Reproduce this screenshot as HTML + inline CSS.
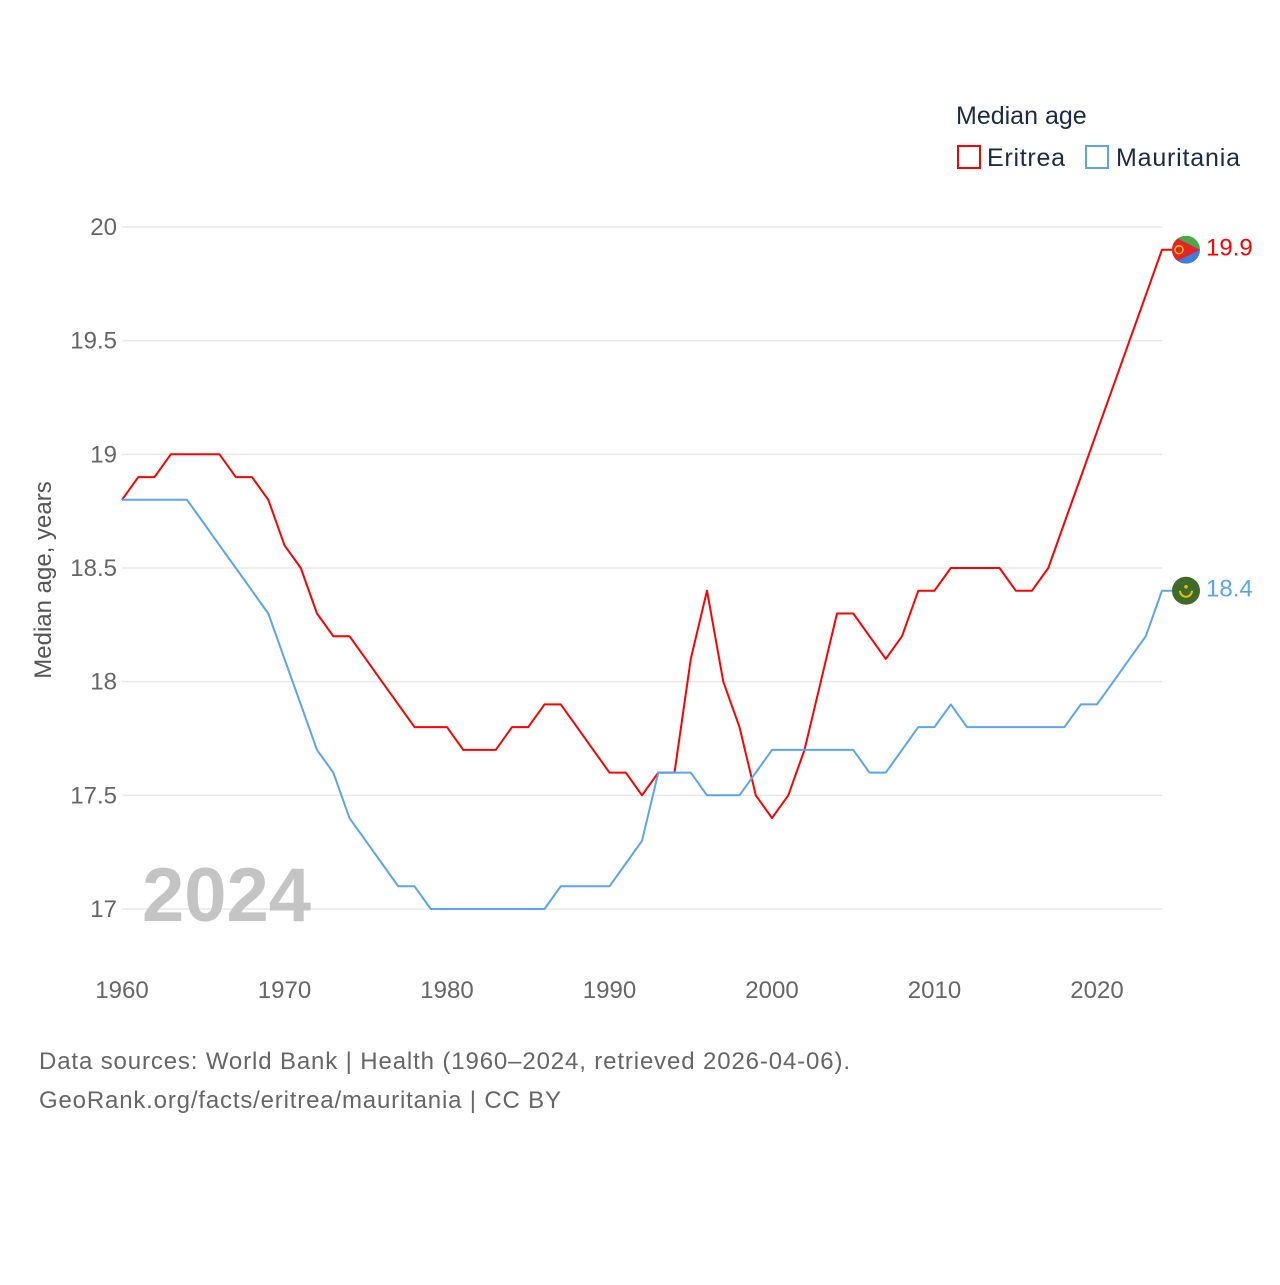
<!DOCTYPE html>
<html><head><meta charset="utf-8"><style>
html,body{margin:0;padding:0;background:#fff;}
svg text{font-family:"Liberation Sans",sans-serif;}
</style></head><body>
<svg id="chart" width="1280" height="1280" viewBox="0 0 1280 1280" xmlns="http://www.w3.org/2000/svg">
<g id="grid"></g>
<g id="yticks"></g>
<g id="xticks"></g>
<text transform="translate(51,580) rotate(-90)" text-anchor="middle" font-size="24" fill="#555">Median age, years</text>
<text x="142" y="921" font-size="76" font-weight="bold" fill="#c4c4c4">2024</text>
<g id="series"></g>
<g>
<text x="956" y="124" font-size="25" fill="#1b2a47">Median age</text>
<rect x="958" y="146" width="22" height="22" fill="none" stroke="#ff0000" stroke-width="2"/>
<text x="987" y="166" font-size="25" fill="#1b2a47" textLength="78">Eritrea</text>
<rect x="1086" y="146" width="22" height="22" fill="none" stroke="#5aa5ee" stroke-width="2"/>
<text x="1116" y="166" font-size="25" fill="#1b2a47" textLength="124">Mauritania</text>
</g>
<text x="39" y="1069" font-size="24" fill="#666" textLength="811">Data sources: World Bank | Health (1960–2024, retrieved 2026-04-06).</text>
<text x="39" y="1108" font-size="24" fill="#666" textLength="522">GeoRank.org/facts/eritrea/mauritania | CC BY</text>
</svg>
<script>
const years = [];
for (let y = 1960; y <= 2024; y++) years.push(y);
const eritrea = [18.8,18.9,18.9,19.0,19.0,19.0,19.0,18.9,18.9,18.8,18.6,18.5,18.3,18.2,18.2,18.1,18.0,17.9,17.8,17.8,17.8,17.7,17.7,17.7,17.8,17.8,17.9,17.9,17.8,17.7,17.6,17.6,17.5,17.6,17.6,18.1,18.4,18.0,17.8,17.5,17.4,17.5,17.7,18.0,18.3,18.3,18.2,18.1,18.2,18.4,18.4,18.5,18.5,18.5,18.5,18.4,18.4,18.5,18.7,18.9,19.1,19.3,19.5,19.7,19.9];
const mauritania = [18.8,18.8,18.8,18.8,18.8,18.7,18.6,18.5,18.4,18.3,18.1,17.9,17.7,17.6,17.4,17.3,17.2,17.1,17.1,17.0,17.0,17.0,17.0,17.0,17.0,17.0,17.0,17.1,17.1,17.1,17.1,17.2,17.3,17.6,17.6,17.6,17.5,17.5,17.5,17.6,17.7,17.7,17.7,17.7,17.7,17.7,17.6,17.6,17.7,17.8,17.8,17.9,17.8,17.8,17.8,17.8,17.8,17.8,17.8,17.9,17.9,18.0,18.1,18.2,18.4];
const yTicks = [17,17.5,18,18.5,19,19.5,20];
const yTickLabels = ["17","17.5","18","18.5","19","19.5","20"];
const xTicks = [1960,1970,1980,1990,2000,2010,2020];

const NS = "http://www.w3.org/2000/svg";
const xS = v => 122 + (v - 1960) * 16.25;
const yS = v => 909 - (v - 17) * 227.33;
function mk(tag, attrs, parent) {
  const e = document.createElementNS(NS, tag);
  for (const k in attrs) e.setAttribute(k, attrs[k]);
  document.getElementById(parent).appendChild(e);
  return e;
}
yTicks.forEach((t, i) => {
  const l = mk("line", {x1:122, x2:1162, y1:yS(t), y2:yS(t), stroke:"#e8e8e8", "stroke-width":1.5}, "grid");
  
  
  const tx = mk("text", {x:117, y:yS(t)+8, "text-anchor":"end", "font-size":24, fill:"#666"}, "yticks");
  tx.textContent = yTickLabels[i];
  
  
});
xTicks.forEach(t => {
  const tx = mk("text", {x:xS(t), y:998, "text-anchor":"middle", "font-size":24, fill:"#666"}, "xticks");
  tx.textContent = t;
  
  
});
function drawSeries(vals, color, name) {
  let d = vals.map((v, i) => (i ? "L" : "M") + xS(years[i]).toFixed(1) + "," + yS(v).toFixed(1)).join(" ");
  const last = vals[vals.length - 1];
  d += " L1186," + yS(last).toFixed(1);
  const p = mk("path", {d:d, fill:"none", stroke:color, "stroke-width":2, "stroke-linejoin":"round"}, "series");
  
  
  const lbl = mk("text", {x:1206, y:yS(last)+6, "font-size":24, fill:color}, "series");
  lbl.textContent = last.toFixed(1);
  
  
  return yS(last);
}
const ye = drawSeries(eritrea, "#ff0000", "eritrea");
const ym = drawSeries(mauritania, "#5aa5ee", "mauritania");
const fe = mk("g", {}, "series");


fe.innerHTML = `<clipPath id="ce"><circle cx="1186" cy="${ye}" r="14"/></clipPath>
<g clip-path="url(#ce)"><rect x="1172" y="${ye-14}" width="28" height="14" fill="#4aa84a"/><rect x="1172" y="${ye}" width="28" height="14" fill="#3a7fdc"/>
<polygon points="1172,${ye-14} 1200,${ye} 1172,${ye+14}" fill="#e3232a"/></g>
<circle cx="1179" cy="${ye}" r="4" fill="none" stroke="#f5c400" stroke-width="1.5"/>`;
const fm = mk("g", {}, "series");


fm.innerHTML = `<circle cx="1186" cy="${ym}" r="14" fill="#3f6b2a"/>
<path d="M1180,${ym} a6,6 0 0 0 12,0" fill="none" stroke="#e8c200" stroke-width="2"/>
<circle cx="1186" cy="${ym-4}" r="1.8" fill="#e8c200"/>`;
</script>
</body></html>
